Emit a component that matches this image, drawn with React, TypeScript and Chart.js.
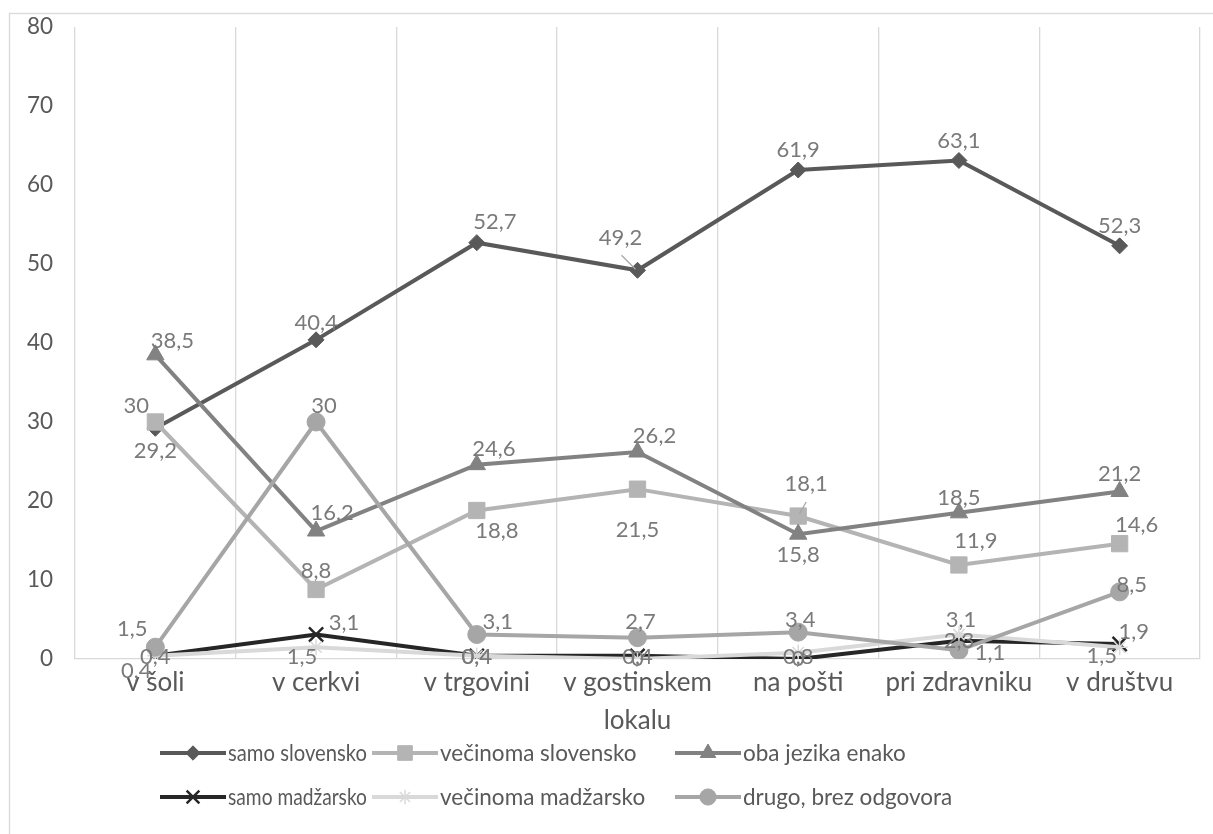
import React, { useEffect, useRef } from 'react';
import { Chart, registerables } from 'chart.js';

Chart.register(...registerables);

// ---------- data ----------
const categories: (string | string[])[] = [
  'v šoli',
  'v cerkvi',
  'v trgovini',
  ['v gostinskem', 'lokalu'],
  'na pošti',
  'pri zdravniku',
  'v društvu',
];

const seriesNames = [
  'samo slovensko',
  'večinoma slovensko',
  'oba jezika enako',
  'samo madžarsko',
  'večinoma madžarsko',
  'drugo, brez odgovora',
];

const samoSlovensko = [29.2, 40.4, 52.7, 49.2, 61.9, 63.1, 52.3];
const vecinomaSlovensko = [30, 8.8, 18.8, 21.5, 18.1, 11.9, 14.6];
const obaJezikaEnako = [38.5, 16.2, 24.6, 26.2, 15.8, 18.5, 21.2];
const samoMadzarsko = [0.4, 3.1, 0.4, 0.4, 0, 2.3, 1.9];
const vecinomaMadzarsko = [0.4, 1.5, 0.4, 0, 0.8, 3.1, 1.5];
const drugoBrezOdgovora = [1.5, 30, 3.1, 2.7, 3.4, 1.1, 8.5];

const yMin = 0;
const yMax = 80;
const yStep = 10;

// ---------- styles ----------
const FONT = 'Lato, "Open Sans", sans-serif';
const TEXT = '#595959';
const LABEL = '#7a7a7a';
const GRID = '#d9d9d9';

const seriesStyles = [
  { color: '#595959', point: 'rectRot', radius: 8, border: 1 },
  { color: '#b4b4b4', point: 'rect', radius: 11.5, border: 1 },
  { color: '#828282', point: 'triangle', radius: 10, border: 1 },
  { color: '#262626', point: 'crossRot', radius: 10, border: 2.5 },
  { color: '#d9d9d9', point: 'star', radius: 8, border: 1.5 },
  { color: '#a6a6a6', point: 'circle', radius: 9, border: 1 },
];

// label offsets (dx, dy) from each point, in px
const labelOffsets: number[][][] = [
  [[0, 23], [0, -17], [18, -21], [-17, -32], [0, -20], [0, -20], [0, -20]],
  [[-19, -16], [0, -19], [20, 20], [0, 41], [8, -32], [17, -24], [17, -19]],
  [[17, -14], [16, -18], [17, -16], [17, -16], [0, 21], [0, -15], [0, -18]],
  [[0, 1], [28, -12], [0, 1], [0, 1], [0, 0], [0, 0], [14, -12]],
  [[-19, 15], [-14, 10], [0, 1], [0, 0], [0, 4], [2, -15], [-18, 9]],
  [[-23, -18], [8, -16], [21, -13], [3, -16], [2, -12], [31, 3], [12, -7]],
];

// leader lines: [series, point, x1, y1, x2, y2] relative to point
const leaders = [
  [0, 3, -16, -15, -2, -1],
  [1, 4, 8, -14, 1, -2],
];

const legendCols = [160, 372, 675];
const legendRows = [753, 797];
const legendRight = 1195;

function drawMarker(ctx: CanvasRenderingContext2D, style: string, x: number, y: number, r: number, color: string, bw: number) {
  ctx.save();
  ctx.fillStyle = color;
  ctx.strokeStyle = color;
  ctx.lineWidth = bw;
  ctx.beginPath();
  const q = Math.SQRT1_2 * r;
  switch (style) {
    case 'circle':
      ctx.arc(x, y, r, 0, Math.PI * 2);
      ctx.fill();
      ctx.stroke();
      break;
    case 'rectRot':
      ctx.moveTo(x, y - r);
      ctx.lineTo(x + r, y);
      ctx.lineTo(x, y + r);
      ctx.lineTo(x - r, y);
      ctx.closePath();
      ctx.fill();
      ctx.stroke();
      break;
    case 'rect':
      ctx.rect(x - q, y - q, 2 * q, 2 * q);
      ctx.fill();
      ctx.stroke();
      break;
    case 'triangle': {
      const a = (2 * Math.PI) / 3;
      ctx.moveTo(x, y - r);
      ctx.lineTo(x + Math.sin(a) * r, y - Math.cos(a) * r);
      ctx.lineTo(x + Math.sin(2 * a) * r, y - Math.cos(2 * a) * r);
      ctx.closePath();
      ctx.fill();
      ctx.stroke();
      break;
    }
    case 'crossRot':
      ctx.moveTo(x - q, y - q);
      ctx.lineTo(x + q, y + q);
      ctx.moveTo(x - q, y + q);
      ctx.lineTo(x + q, y - q);
      ctx.stroke();
      break;
    case 'star':
      ctx.moveTo(x - q, y - q);
      ctx.lineTo(x + q, y + q);
      ctx.moveTo(x - q, y + q);
      ctx.lineTo(x + q, y - q);
      ctx.moveTo(x, y - r);
      ctx.lineTo(x, y + r);
      ctx.moveTo(x - r, y);
      ctx.lineTo(x + r, y);
      ctx.stroke();
      break;
  }
  ctx.restore();
}

const fmt = (v: number) => String(v).replace('.', ',');

const decorPlugin = {
  id: 'decor',
  beforeDraw(chart: any) {
    const ctx = chart.ctx as CanvasRenderingContext2D;
    ctx.save();
    ctx.fillStyle = '#ffffff';
    ctx.fillRect(0, 0, chart.width, chart.height);
    ctx.strokeStyle = GRID;
    ctx.lineWidth = 1.3;
    ctx.strokeRect(9.5, 13.5, chart.width + 50, chart.height + 50);
    ctx.restore();
  },
  afterDatasetsDraw(chart: any) {
    const ctx = chart.ctx as CanvasRenderingContext2D;
    ctx.save();
    // leader lines
    ctx.strokeStyle = '#a6a6a6';
    ctx.lineWidth = 1.3;
    leaders.forEach(([s, p, x1, y1, x2, y2]) => {
      const el = chart.getDatasetMeta(s).data[p];
      ctx.beginPath();
      ctx.moveTo(el.x + x1, el.y + y1);
      ctx.lineTo(el.x + x2, el.y + y2);
      ctx.stroke();
    });
    ctx.font = `22px ${FONT}`;
    ctx.fillStyle = LABEL;
    ctx.textAlign = 'center';
    ctx.textBaseline = 'middle';
    chart.data.datasets.forEach((ds: any, i: number) => {
      const meta = chart.getDatasetMeta(i);
      meta.data.forEach((el: any, j: number) => {
        const [dx, dy] = labelOffsets[i][j];
        ctx.fillText(fmt(ds.data[j]), el.x + dx, el.y + dy);
      });
    });
    ctx.restore();
  },
  afterDraw(chart: any) {
    const ctx = chart.ctx as CanvasRenderingContext2D;
    ctx.save();
    ctx.font = `22.5px ${FONT}`;
    ctx.fillStyle = TEXT;
    ctx.textAlign = 'left';
    ctx.textBaseline = 'middle';
    seriesNames.forEach((name, i) => {
      const st = seriesStyles[i];
      const col = i % 3;
      const x = legendCols[col];
      const y = legendRows[Math.floor(i / 3)];
      ctx.strokeStyle = st.color;
      ctx.lineWidth = 4;
      ctx.beginPath();
      ctx.moveTo(x, y);
      ctx.lineTo(x + 66, y);
      ctx.stroke();
      drawMarker(ctx, st.point, x + 33, y, st.radius * 0.9, st.color, st.border);
      ctx.fillStyle = TEXT;
      const next = col < 2 ? legendCols[col + 1] : legendRight;
      ctx.fillText(name, x + 68, y + 1, next - (x + 68) - 5);
    });
    ctx.restore();
  },
};

export default function App() {
  const ref = useRef<HTMLCanvasElement>(null);

  useEffect(() => {
    document.body.style.margin = '0';
    let chart: Chart | null = null;
    let cancelled = false;
    const make = () => {
      if (cancelled || !ref.current) return;
      const allSeries = [samoSlovensko, vecinomaSlovensko, obaJezikaEnako, samoMadzarsko, vecinomaMadzarsko, drugoBrezOdgovora];
      chart = new Chart(ref.current, {
        type: 'line',
        data: {
          labels: categories as any,
          datasets: allSeries.map((d, i) => ({
            label: seriesNames[i],
            data: d,
            borderColor: seriesStyles[i].color,
            backgroundColor: seriesStyles[i].color,
            pointBackgroundColor: seriesStyles[i].color,
            pointBorderColor: seriesStyles[i].color,
            pointStyle: seriesStyles[i].point as any,
            pointRadius: seriesStyles[i].radius,
            pointBorderWidth: seriesStyles[i].border,
            borderWidth: 4,
            tension: 0,
            fill: false,
            order: allSeries.length - i,
          })),
        },
        options: {
          responsive: false,
          animation: false,
          layout: { padding: { left: 0, right: 13, top: 27, bottom: 0 } },
          plugins: {
            legend: { display: false },
            tooltip: { enabled: false },
            title: { display: false },
          },
          scales: {
            x: {
              type: 'category',
              offset: true,
              grid: { display: true, offset: true, color: GRID, lineWidth: 1.3, drawTicks: false },
              border: { display: true, color: GRID, width: 1.3 },
              ticks: {
                color: TEXT,
                font: { family: FONT, size: 26, lineHeight: 1.45 },
                padding: 5,
                maxRotation: 0,
                autoSkip: false,
              },
              afterFit(scale: any) {
                scale.height = 175;
                scale.paddingLeft = 0;
                scale.paddingRight = 0;
              },
            },
            y: {
              min: yMin,
              max: yMax,
              grid: { display: false, drawTicks: false },
              border: { display: false },
              ticks: {
                stepSize: yStep,
                color: TEXT,
                font: { family: FONT, size: 22.5 },
                padding: 22,
              },
              afterFit(scale: any) {
                scale.width = 75;
                scale.paddingTop = 0;
                scale.paddingBottom = 0;
              },
            },
          },
        },
        plugins: [decorPlugin],
      });
    };
    const fonts = (document as any).fonts;
    if (fonts && fonts.load) {
      Promise.all([fonts.load(`20px Lato`), fonts.load(`25px Lato`)]).then(make, make);
    } else {
      make();
    }
    return () => {
      cancelled = true;
      if (chart) chart.destroy();
    };
  }, []);

  return (
    <div style={{ width: 1213, height: 834 }}>
      <canvas ref={ref} width={1213} height={834} style={{ display: 'block' }} />
    </div>
  );
}
